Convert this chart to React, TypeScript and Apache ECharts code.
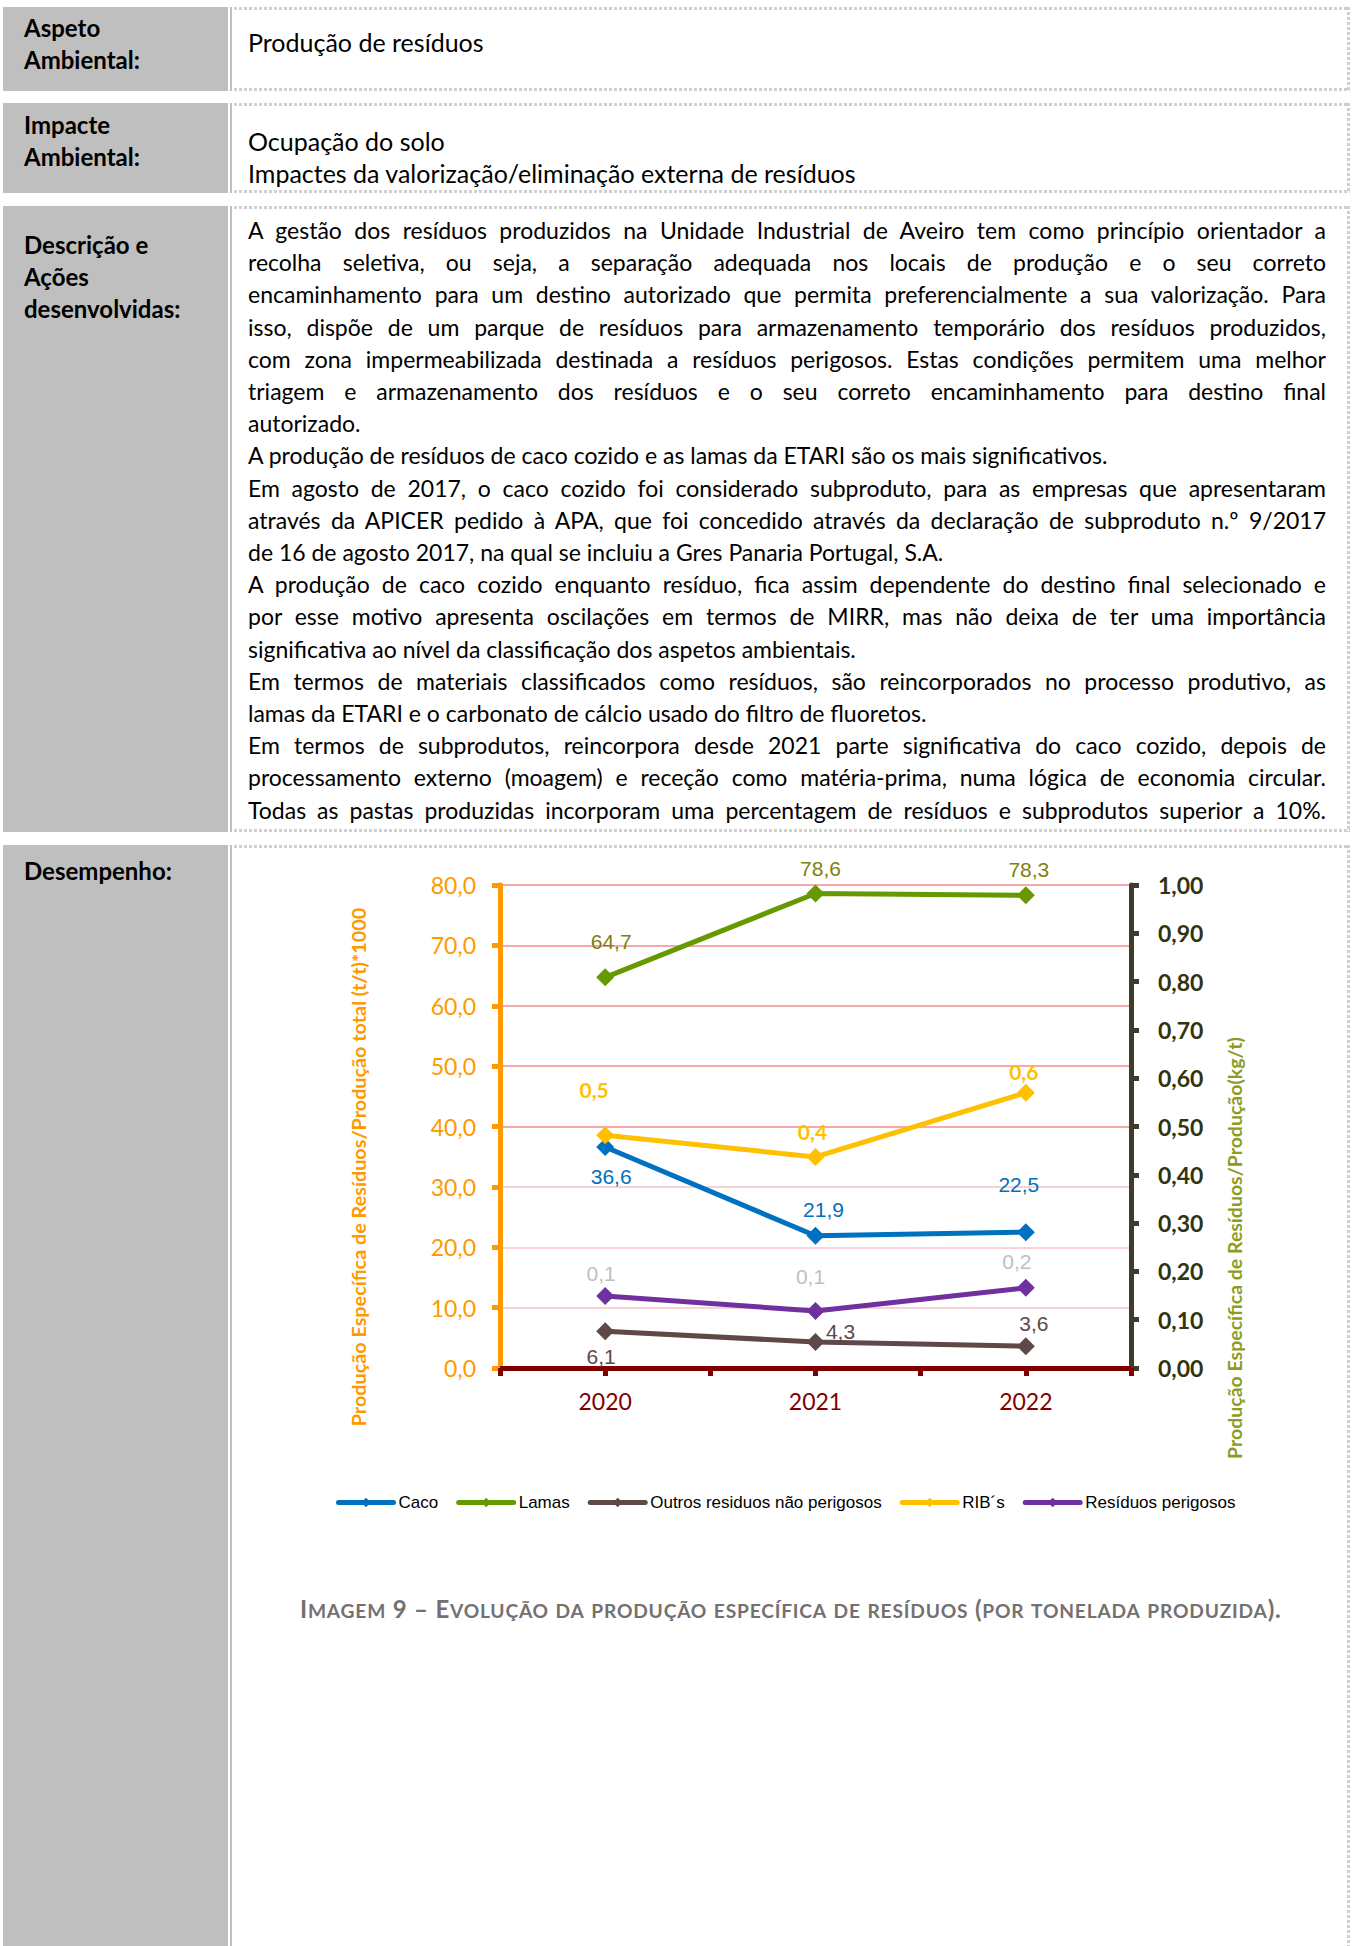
import React, { useEffect, useRef } from "react";
import * as echarts from "echarts";

// ---------- chart data ----------
const years = ["2020", "2021", "2022"];
const caco = [36.6, 21.9, 22.5];
const lamas = [64.7, 78.6, 78.3];
const outros = [6.1, 4.3, 3.6];
const ribs = [0.482, 0.437, 0.57];
const perigosos = [0.149, 0.118, 0.166];
const seriesNames = ["Caco", "Lamas", "Outros residuos não perigosos", "RIB´s", "Resíduos perigosos"];
const leftAxisRange = [0, 80, 10];
const rightAxisRange = [0, 1, 0.1];
const leftTitle = "Produção Específica de Resíduos/Produção total (t/t)*1000";
const rightTitle = "Produção Específica de Resíduos/Produção(kg/t)";
const halfBands = ["", "", "", "", "", ""];

// ---------- document text ----------
const row1Label = ["Aspeto", "Ambiental:"];
const row1Text = ["Produção de resíduos"];
const row2Label = ["Impacte", "Ambiental:"];
const row2Text = ["Ocupação do solo", "Impactes da valorização/eliminação externa de resíduos"];
const row3Label = ["Descrição e", "Ações", "desenvolvidas:"];
const row3Lines: [string, boolean][] = [
  ["A gestão dos resíduos produzidos na Unidade Industrial de Aveiro tem como princípio orientador a", true],
  ["recolha seletiva, ou seja, a separação adequada nos locais de produção e o seu correto", true],
  ["encaminhamento para um destino autorizado que permita preferencialmente a sua valorização. Para", true],
  ["isso, dispõe de um parque de resíduos para armazenamento temporário dos resíduos produzidos,", true],
  ["com zona impermeabilizada destinada a resíduos perigosos. Estas condições permitem uma melhor", true],
  ["triagem e armazenamento dos resíduos e o seu correto encaminhamento para destino final", true],
  ["autorizado.", false],
  ["A produção de resíduos de caco cozido e as lamas da ETARI são os mais significativos.", false],
  ["Em agosto de 2017, o caco cozido foi considerado subproduto, para as empresas que apresentaram", true],
  ["através da APICER pedido à APA, que foi concedido através da declaração de subproduto n.º 9/2017", true],
  ["de 16 de agosto 2017, na qual se incluiu a Gres Panaria Portugal, S.A.", false],
  ["A produção de caco cozido enquanto resíduo, fica assim dependente do destino final selecionado e", true],
  ["por esse motivo apresenta oscilações em termos de MIRR, mas não deixa de ter uma importância", true],
  ["significativa ao nível da classificação dos aspetos ambientais.", false],
  ["Em termos de materiais classificados como resíduos, são reincorporados no processo produtivo, as", true],
  ["lamas da ETARI e o carbonato de cálcio usado do filtro de fluoretos.", false],
  ["Em termos de subprodutos, reincorpora desde 2021 parte significativa do caco cozido, depois de", true],
  ["processamento externo (moagem) e receção como matéria-prima, numa lógica de economia circular.", true],
  ["Todas as pastas produzidas incorporam uma percentagem de resíduos e subprodutos superior a 10%.", true],
];
const row4Label = ["Desempenho:"];
const caption = "Imagem 9 – Evolução da produção específica de resíduos (por tonelada produzida).";

// ---------- layout ----------
const ROWS = [
  { top: 7, bottom: 91 },
  { top: 103, bottom: 193 },
  { top: 206, bottom: 832 },
  { top: 845, bottom: 1946 },
];
const GREY = "#BFBFBF";
const DOT = "#CFCFCF";
const FONT = "Lato, 'Open Sans', sans-serif";

const fmt1 = (v: number) => v.toFixed(1).replace(".", ",");
const fmt2 = (v: number) => v.toFixed(2).replace(".", ",");

function RowFrame({ top, bottom, last }: { top: number; bottom: number; last?: boolean }) {
  const h = bottom - top;
  return (
    <>
      <div style={{ position: "absolute", left: 3, top, width: 225, height: h, background: GREY }} />
      <div style={{ position: "absolute", left: 230, top, width: 2, height: h, background: GREY }} />
      <div
        style={{
          position: "absolute", left: 234, top, width: 1116, height: 3,
          backgroundImage: `repeating-linear-gradient(90deg, ${DOT} 0 3px, transparent 3px 5px)`,
        }}
      />
      {!last && (
        <div
          style={{
            position: "absolute", left: 234, top: bottom - 3, width: 1116, height: 3,
            backgroundImage: `repeating-linear-gradient(90deg, ${DOT} 0 3px, transparent 3px 5px)`,
          }}
        />
      )}
      <div
        style={{
          position: "absolute", left: 1347, top, width: 3, height: h,
          backgroundImage: `repeating-linear-gradient(180deg, ${DOT} 0 3px, transparent 3px 5px)`,
        }}
      />
    </>
  );
}

function Lines({ lines, left, top, lh, bold, width, size }: { lines: string[]; left: number; top: number; lh: number; bold?: boolean; width?: number; size?: number }) {
  return (
    <div style={{ position: "absolute", left, top, width: width ?? 1078, fontFamily: FONT, fontSize: size ?? 24, lineHeight: `${lh}px`, fontWeight: bold ? 700 : 400, color: "#000", whiteSpace: "nowrap" }}>
      {lines.map((l, i) => (
        <div key={i}>{l}</div>
      ))}
    </div>
  );
}

function SmallCaps({ text }: { text: string }) {
  const runs: { s: string; small: boolean }[] = [];
  for (const ch of text) {
    const small = ch !== ch.toUpperCase();
    const last = runs[runs.length - 1];
    if (last && last.small === small) last.s += small ? ch.toUpperCase() : ch;
    else runs.push({ s: small ? ch.toUpperCase() : ch, small });
  }
  return (
    <>
      {runs.map((r, i) => (
        <span key={i} style={r.small ? { fontSize: "0.8em" } : undefined}>
          {r.s}
        </span>
      ))}
    </>
  );
}

const labelOffsets = {
  caco: [[6, 29], [8, -26], [-7, -48]],
  lamas: [[6, -36], [5, -25], [3, -26]],
  outros: [[-4, 25], [25, -11], [8, -23]],
  ribs: [[-11, -46], [-3, -25], [-2, -21]],
  perigosos: [[-4, -23], [-5, -35], [-9, -26]],
};

function mkSeries(name: string, values: number[], color: string, axisIdx: number, labelStyle: any, offsets: number[][]) {
  return {
    name,
    type: "line",
    xAxisIndex: 0,
    yAxisIndex: axisIdx,
    data: values.map((v, i) => ({ value: v, label: { offset: offsets[i] } })),
    symbol: "diamond",
    symbolSize: 18,
    showSymbol: true,
    lineStyle: { color, width: 5, cap: "round", join: "round" },
    itemStyle: { color },
    label: {
      show: true,
      position: "inside",
      align: "center",
      verticalAlign: "middle",
      formatter: (p: any) => fmt1(p.value),
      ...labelStyle,
    },
    emphasis: { disabled: true },
    silent: true,
  };
}

function buildOption() {
  const gridColors = ["#F4AAAA", "#F9D3D3", "#F9D3D3", "#F9D3D3", "#F4AAAA", "#F4AAAA", "#F4AAAA", "#F4AAAA", "#F4AAAA"];
  return {
    animation: false,
    textStyle: { fontFamily: "'Liberation Sans', Arial, sans-serif" },
    grid: { left: 500, right: 221, top: 885, bottom: 578, containLabel: false },
    legend: {
      left: 331,
      top: 1489,
      itemWidth: 55,
      itemHeight: 12,
      itemGap: 18,
      data: seriesNames,
      lineStyle: { width: 5 },
      textStyle: { fontSize: 17, color: "#000", fontFamily: "'Liberation Sans', Arial, sans-serif" },
      selectedMode: false,
    },
    xAxis: [
      {
        type: "category",
        data: years,
        boundaryGap: true,
        position: "bottom",
        axisLine: { show: true, lineStyle: { color: "#800000", width: 5 } },
        axisTick: { show: false },
        axisLabel: { color: "#800000", fontSize: 23, fontFamily: FONT, margin: 21 },
        splitLine: { show: false },
      },
      {
        type: "category",
        data: halfBands,
        boundaryGap: true,
        position: "bottom",
        axisLine: { show: false },
        axisTick: { show: true, length: 8, lineStyle: { color: "#800000", width: 5 } },
        axisLabel: { show: false },
        splitLine: { show: false },
      },
    ],
    yAxis: [
      {
        type: "value",
        position: "left",
        min: leftAxisRange[0],
        max: leftAxisRange[1],
        interval: leftAxisRange[2],
        axisLine: { show: true, lineStyle: { color: "#FF9900", width: 5 } },
        axisTick: { show: true, length: 8, lineStyle: { color: "#FF9900", width: 5 } },
        axisLabel: { color: "#FF9900", fontSize: 23, fontFamily: FONT, margin: 24, formatter: (v: number) => fmt1(v) },
        splitLine: { show: true, lineStyle: { color: gridColors, width: 2 } },
      },
      {
        type: "value",
        position: "right",
        min: rightAxisRange[0],
        max: rightAxisRange[1],
        interval: rightAxisRange[2],
        axisLine: { show: true, lineStyle: { color: "#403C2C", width: 5 } },
        axisTick: { show: true, length: 8, lineStyle: { color: "#403C2C", width: 5 } },
        axisLabel: { color: "#333310", fontSize: 23, fontWeight: "bold", fontFamily: FONT, margin: 27, formatter: (v: number) => fmt2(v) },
        splitLine: { show: false },
      },
    ],
    graphic: [
      {
        type: "text",
        x: 358,
        y: 1167,
        rotation: Math.PI / 2,
        silent: true,
        style: { text: leftTitle, fill: "#FF9900", font: `bold 19.8px ${FONT}`, align: "center", verticalAlign: "middle", textAlign: "center", textVerticalAlign: "middle" },
      },
      {
        type: "text",
        x: 1234,
        y: 1248,
        rotation: Math.PI / 2,
        silent: true,
        style: { text: rightTitle, fill: "#8C9C23", font: `bold 19.5px ${FONT}`, align: "center", verticalAlign: "middle", textAlign: "center", textVerticalAlign: "middle" },
      },
    ],
    series: [
      mkSeries(seriesNames[0], caco, "#0070C0", 0, { color: "#0070C0", fontSize: 21 }, labelOffsets.caco),
      mkSeries(seriesNames[1], lamas, "#669900", 0, { color: "#7F7F10", fontSize: 21 }, labelOffsets.lamas),
      mkSeries(seriesNames[2], outros, "#5E4848", 0, { color: "#5E4848", fontSize: 21 }, labelOffsets.outros),
      mkSeries(seriesNames[3], ribs, "#FFC000", 1, { color: "#FFC000", fontSize: 21, fontWeight: "bold", fontFamily: FONT }, labelOffsets.ribs),
      mkSeries(seriesNames[4], perigosos, "#7030A0", 1, { color: "#BFBFBF", fontSize: 21 }, labelOffsets.perigosos),
    ],
  };
}

export default function App() {
  const ref = useRef<HTMLDivElement>(null);
  useEffect(() => {
    if (!ref.current) return;
    const chart = echarts.init(ref.current, undefined, { renderer: "svg" });
    chart.setOption(buildOption() as any);
    return () => chart.dispose();
  }, []);

  const LH3 = 32.2;
  return (
    <div style={{ position: "absolute", left: 0, top: 0, width: 1352, height: 1946, background: "#fff", overflow: "hidden" }}>
      {ROWS.map((r, i) => (
        <RowFrame key={i} top={r.top} bottom={r.bottom} last={i === ROWS.length - 1} />
      ))}
      <Lines lines={row1Label} left={24} top={12} lh={32} bold width={200} />
      <Lines lines={row1Text} left={248} top={27} lh={31} size={25} />
      <Lines lines={row2Label} left={24} top={109} lh={32} bold width={200} />
      <Lines lines={row2Text} left={248} top={125} lh={32} size={25} />
      <Lines lines={row3Label} left={24} top={229} lh={LH3} bold width={200} />
      <div style={{ position: "absolute", left: 248, top: 214, width: 1078, fontFamily: FONT, fontSize: 23, lineHeight: `${LH3}px`, color: "#000" }}>
        {row3Lines.map(([t, j], i) => (
          <div key={i} style={{ whiteSpace: "nowrap", textAlign: j ? "justify" : "left", textAlignLast: j ? "justify" : "left" } as any}>
            {t}
          </div>
        ))}
      </div>
      <Lines lines={row4Label} left={24} top={855} lh={31} bold width={200} />
      <div
        style={{
          position: "absolute", left: 300, top: 1594, width: 1045, fontFamily: FONT, fontSize: 24, lineHeight: "30px",
          fontWeight: 700, color: "#757070", whiteSpace: "nowrap", letterSpacing: "0.8px",
        }}
      >
        <SmallCaps text={caption} />
      </div>
      <div ref={ref} style={{ position: "absolute", left: 0, top: 0, width: 1352, height: 1946 }} />
    </div>
  );
}
